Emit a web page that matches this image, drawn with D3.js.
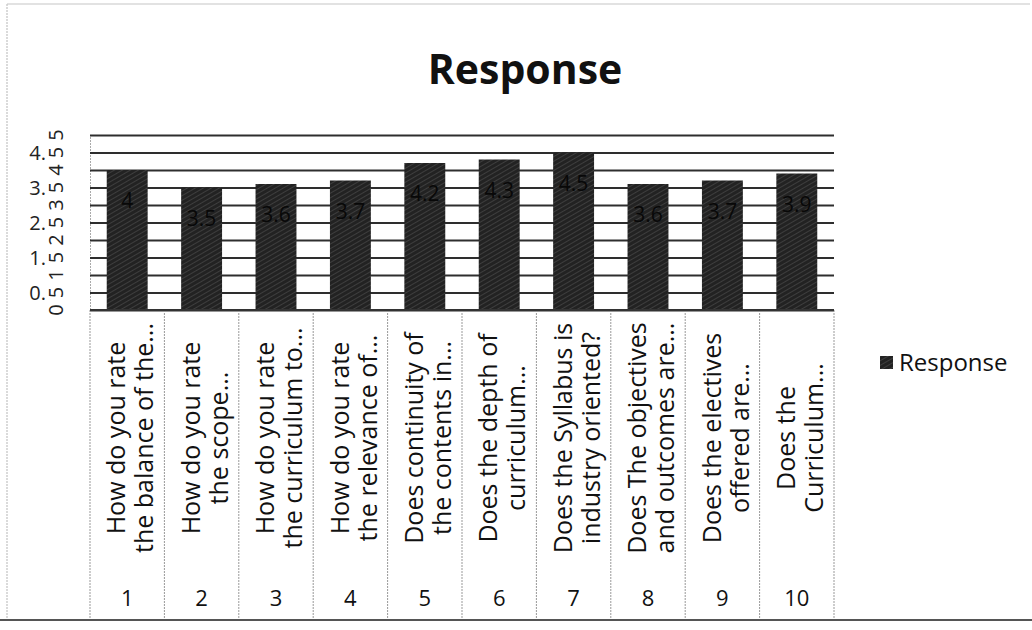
<!DOCTYPE html>
<html>
<head>
<meta charset="utf-8">
<script src="https://cdn.jsdelivr.net/npm/d3@7"></script>
<style>
  html, body { margin: 0; padding: 0; background: #ffffff; }
  svg { display: block; font-family: "Open Sans", "Noto Sans", sans-serif; }
</style>
</head>
<body>
<svg id="chart" width="1032" height="630"></svg>
<script>
// ---- data ----
const categoryNumbers = ["1", "2", "3", "4", "5", "6", "7", "8", "9", "10"];
const categoryLine1 = ["How do you rate", "How do you rate", "How do you rate", "How do you rate",
  "Does continuity of", "Does the depth of", "Does the Syllabus is", "Does The objectives",
  "Does the electives", "Does the"];
const categoryLine2 = ["the balance of the...", "the scope...", "the curriculum to...", "the relevance of...",
  "the contents in...", "curriculum...", "industry oriented?", "and outcomes are...",
  "offered are...", "Curriculum..."];
const responseValues = [4, 3.5, 3.6, 3.7, 4.2, 4.3, 4.5, 3.6, 3.7, 3.9];
const valueLabels = ["4", "3.5", "3.6", "3.7", "4.2", "4.3", "4.5", "3.6", "3.7", "3.9"];
const yTicks = [0, 0.5, 1, 1.5, 2, 2.5, 3, 3.5, 4, 4.5, 5];
const seriesName = "Response";
const chartTitle = "Response";

// ---- layout ----
const svg = d3.select("#chart");
const plot = { left: 90, right: 834, top: 135, bottom: 310 };
const catBottom = 619;

const defs = svg.append("defs");
const pat = defs.append("pattern").attr("id", "hatch").attr("patternUnits", "userSpaceOnUse")
  .attr("width", 4).attr("height", 4).attr("patternTransform", "rotate(60)");
pat.append("rect").attr("width", 4).attr("height", 4).attr("fill", "#222");
pat.append("line").attr("x1", 0).attr("y1", 0).attr("x2", 0).attr("y2", 4)
  .attr("stroke", "#555").attr("stroke-width", 1.1);

// chart border
svg.append("line").attr("x1", 7).attr("x2", 7).attr("y1", 4).attr("y2", catBottom)
  .attr("stroke", "#b5b5b5").attr("stroke-dasharray", "2,1");
svg.append("line").attr("x1", 7).attr("x2", 1030).attr("y1", 4).attr("y2", 4)
  .attr("stroke", "#c5c5c5");
svg.append("line").attr("x1", 0).attr("x2", 1032).attr("y1", catBottom + 1).attr("y2", catBottom + 1)
  .attr("stroke", "#555").attr("stroke-width", 2);

const x = d3.scaleBand().domain(categoryNumbers).range([plot.left, plot.right])
  .paddingInner(0.45).paddingOuter(0.225);
const y = d3.scaleLinear().domain([0, 5]).range([plot.bottom, plot.top]);

// title
svg.append("text").attr("x", 525).attr("y", 84).attr("text-anchor", "middle")
  .attr("font-size", 41).attr("font-weight", 700).attr("fill", "#111").text(chartTitle);

// gridlines via axis
const grid = svg.append("g").attr("transform", `translate(${plot.left},0)`)
  .call(d3.axisLeft(y).tickValues(yTicks).tickSize(-(plot.right - plot.left)).tickFormat(""));
grid.select(".domain").attr("stroke", "#aaa").attr("stroke-dasharray", "2,1");
grid.selectAll(".tick line").attr("stroke", "#2e2e2e").attr("stroke-width", 1.8);

// y tick labels (wrapped look as in reference)
const yl = svg.append("g").attr("fill", "#222").attr("font-size", 20);
yTicks.forEach(t => {
  const isInt = Number.isInteger(t);
  if (!isInt) {
    yl.append("text").attr("x", 46).attr("y", y(t)).attr("dy", "0.35em")
      .attr("text-anchor", "end").text(Math.floor(t) + ".");
  }
  yl.append("text").attr("transform", `translate(56,${y(t)}) rotate(-90)`)
    .attr("text-anchor", "middle").attr("dy", "0.35em").text(isInt ? String(t) : "5");
});

// bars
svg.append("g").selectAll("rect").data(responseValues).join("rect")
  .attr("x", (d, i) => x(categoryNumbers[i]))
  .attr("width", x.bandwidth())
  .attr("y", d => y(d))
  .attr("height", d => y(0) - y(d))
  .attr("fill", "url(#hatch)");

// data labels (inside end)
svg.append("g").selectAll("text").data(responseValues).join("text")
  .attr("x", (d, i) => x(categoryNumbers[i]) + x.bandwidth() / 2)
  .attr("y", d => y(d) + 38)
  .attr("text-anchor", "middle").attr("font-size", 21).attr("fill", "#080808")
  .text((d, i) => valueLabels[i]);

// category table
const step = x.step();
const seps = d3.range(categoryNumbers.length + 1).map(i => plot.left + i * step);
svg.append("g").selectAll("line").data(seps).join("line")
  .attr("x1", d => d).attr("x2", d => d).attr("y1", plot.bottom).attr("y2", catBottom)
  .attr("stroke", "#999").attr("stroke-dasharray", "2,1");
svg.append("line").attr("x1", plot.left).attr("x2", plot.right)
  .attr("y1", plot.bottom).attr("y2", plot.bottom).attr("stroke", "#333").attr("stroke-width", 1.8);

const cat = svg.append("g").attr("fill", "#111");
categoryNumbers.forEach((c, i) => {
  const cx = x(c) + x.bandwidth() / 2;
  const t = cat.append("text").attr("transform", `translate(${cx + 3.5},438) rotate(-90)`)
    .attr("text-anchor", "middle").attr("font-size", 25);
  t.append("tspan").attr("x", 0).attr("y", -14).attr("dy", "0.35em").text(categoryLine1[i]);
  t.append("tspan").attr("x", 0).attr("y", 14).attr("dy", "0.35em").text(categoryLine2[i]);
  cat.append("text").attr("x", cx).attr("y", 598).attr("dy", "0.35em")
    .attr("text-anchor", "middle").attr("font-size", 22).text(c);
});

// legend
const lg = svg.append("g");
lg.append("rect").attr("x", 880).attr("y", 356).attr("width", 13).attr("height", 13).attr("fill", "url(#hatch)");
lg.append("text").attr("x", 899).attr("y", 363).attr("dy", "0.35em").attr("font-size", 24)
  .attr("fill", "#111").text(seriesName);
</script>
</body>
</html>
